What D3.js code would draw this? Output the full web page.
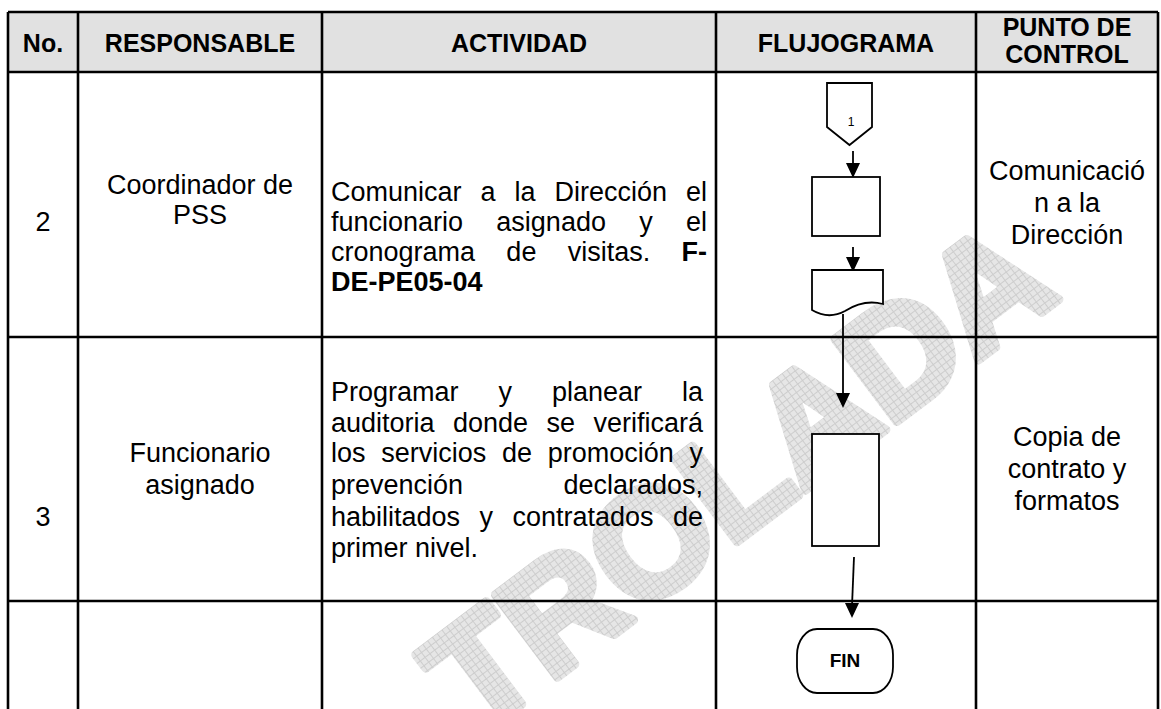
<!DOCTYPE html>
<html><head><meta charset="utf-8">
<script src="https://cdn.jsdelivr.net/npm/d3@7"></script>
<style>html,body{margin:0;padding:0;background:#fff;}svg{display:block;}</style>
</head><body>
<svg id="c" width="1161" height="709"></svg>
<script>
// ---- data ----
const headers = [["No."], ["RESPONSABLE"], ["ACTIVIDAD"], ["FLUJOGRAMA"], ["PUNTO DE", "CONTROL"]];
const numbers = ["2", "3", ""];
const responsables = [["Coordinador de", "PSS"], ["Funcionario", "asignado"], []];
const actividad2 = [
  [["Comunicar"], ["a"], ["la"], ["Dirección"], ["el"]],
  [["funcionario"], ["asignado"], ["y"], ["el"]],
  [["cronograma"], ["de"], ["visitas."], ["F-", true]],
  [["DE-PE05-04", true]]
];
const actividad3 = [
  [["Programar"], ["y"], ["planear"], ["la"]],
  [["auditoria"], ["donde"], ["se"], ["verificará"]],
  [["los"], ["servicios"], ["de"], ["promoción"], ["y"]],
  [["prevención"], ["declarados,"]],
  [["habilitados"], ["y"], ["contratados"], ["de"]],
  [["primer"], ["nivel."]]
];
const puntos = [["Comunicació", "n a la", "Dirección"], ["Copia de", "contrato y", "formatos"], []];
const connectorLabel = "1";
const endLabel = "FIN";
const watermarkLetters = ["C", "O", "N", "T", "R", "O", "L", "A", "D", "A"];

// ---- layout ----
const W = 1161, H = 709;
const svg = d3.select("#c");
const FONT = "'Liberation Sans', Arial, Helvetica, sans-serif";
const colEdges = [8, 78, 322, 716, 976, 1158];
const rowEdges = [12, 72, 337, 601, 780];
const colX = i => colEdges[i];
const colC = i => (colEdges[i] + colEdges[i + 1]) / 2;

// header background
svg.append("rect").attr("x", colX(0)).attr("y", rowEdges[0]).attr("width", colEdges[5] - colEdges[0])
  .attr("height", rowEdges[1] - rowEdges[0]).attr("fill", "#e1e1e1");

// watermark
const defs = svg.append("defs");
const pat = defs.append("pattern").attr("id", "hatch").attr("patternUnits", "userSpaceOnUse")
  .attr("width", 6).attr("height", 6);
pat.append("rect").attr("width", 6).attr("height", 6).attr("fill", "#e6e6e6");
pat.append("path").attr("d", "M0,0.5H6M0.5,0V6").attr("stroke", "#cdcdcd").attr("stroke-width", 1);
const WM_SIZE = 150, WM_ANG = -37, WM_END = [1062, 297];
const wm = svg.append("g").attr("transform", `translate(${WM_END[0]},${WM_END[1]}) rotate(${WM_ANG})`);
(function () {
  const widths = watermarkLetters.map(ch => {
    const t = wm.append("text").attr("font-family", FONT).attr("font-weight", "bold").attr("font-size", WM_SIZE).text(ch);
    const w = t.node().getComputedTextLength(); t.remove(); return w;
  });
  let pos = -d3.sum(widths);
  const rad = WM_ANG * Math.PI / 180;
  watermarkLetters.forEach((ch, i) => {
    const sy = WM_END[1] + pos * Math.sin(rad);
    if (sy < H + 80) {
      wm.append("text").attr("x", pos).attr("y", 0).attr("font-family", FONT).attr("font-weight", "bold")
        .attr("font-size", WM_SIZE).attr("fill", "url(#hatch)")
        .attr("stroke", "url(#hatch)").attr("stroke-width", 9).attr("stroke-linejoin", "round").text(ch);
    }
    pos += widths[i];
  });
})();

// header text
const hdrBase = [[52], [52], [52], [52], [36, 63]];
headers.forEach((lines, i) => {
  lines.forEach((t, j) => {
    svg.append("text").attr("x", colC(i)).attr("y", hdrBase[i][j]).attr("text-anchor", "middle")
      .attr("font-family", FONT).attr("font-weight", "bold").attr("font-size", 25).text(t);
  });
});

const BODY = 27;
function centerLines(lines, cx, baselines, size, bold) {
  lines.forEach((t, j) => svg.append("text").attr("x", cx).attr("y", baselines[j])
    .attr("text-anchor", "middle").attr("font-family", FONT).attr("font-size", size)
    .attr("font-weight", bold ? "bold" : "normal").text(t));
}
const numBase = [231, 526];
numbers.forEach((n, i) => { if (n) centerLines([n], colC(0), [numBase[i]], BODY); });
const respBase = [[194, 224], [462, 494]];
responsables.forEach((l, i) => { if (l.length) centerLines(l, colC(1), respBase[i], BODY); });
const ptBase = [[180, 212, 244], [446, 478, 510]];
puntos.forEach((l, i) => { if (l.length) centerLines(l, colC(4), ptBase[i], BODY); });

// justified paragraphs
function measure(word, bold) {
  const t = svg.append("text").attr("font-family", FONT).attr("font-size", BODY)
    .attr("font-weight", bold ? "bold" : "normal").text(word);
  const w = t.node().getComputedTextLength(); t.remove(); return w;
}
const spaceW = measure("a a") - measure("aa");
function justify(lines, x0, x1, baselines) {
  lines.forEach((words, j) => {
    const widths = words.map(w => measure(w[0], w[1]));
    const sum = d3.sum(widths);
    const last = j === lines.length - 1;
    const gap = (last || words.length < 2) ? spaceW : (x1 - x0 - sum) / (words.length - 1);
    let cx = x0;
    words.forEach((w, k) => {
      svg.append("text").attr("x", cx).attr("y", baselines[j]).attr("font-family", FONT)
        .attr("font-size", BODY).attr("font-weight", w[1] ? "bold" : "normal").text(w[0]);
      cx += widths[k] + gap;
    });
  });
}
justify(actividad2, 331, 707, [201, 231, 261, 291]);
justify(actividad3, 331, 703, [401, 432, 462, 494, 526, 557]);

// grid lines
const g = svg.append("g").attr("stroke", "#000").attr("stroke-width", 2.6);
rowEdges.slice(0, 4).forEach(y => g.append("line").attr("x1", colEdges[0]).attr("x2", colEdges[5]).attr("y1", y).attr("y2", y));
colEdges.forEach(cx => g.append("line").attr("x1", cx).attr("x2", cx).attr("y1", rowEdges[0]).attr("y2", H + 5));

// flowchart
const f = svg.append("g").attr("stroke", "#000").attr("stroke-width", 1.8).attr("fill", "#fff");
function arrow(x1, y1, x2, y2) {
  f.append("line").attr("x1", x1).attr("y1", y1).attr("x2", x2).attr("y2", y2 - 12);
  f.append("path").attr("d", `M${x2 - 7},${y2 - 15}L${x2 + 7},${y2 - 15}L${x2},${y2}Z`).attr("fill", "#000").attr("stroke", "none");
}
f.append("path").attr("d", "M827,83H872V127L849.5,145L827,127Z");
svg.append("text").attr("x", 851).attr("y", 126).attr("text-anchor", "middle").attr("font-family", FONT)
  .attr("font-size", 12).text(connectorLabel);
arrow(853, 151, 853, 178);
f.append("rect").attr("x", 812).attr("y", 177).attr("width", 68).attr("height", 59);
arrow(853, 247, 853, 272);
f.append("path").attr("d", "M812,270H883V304C868,300 856,304 845,311C834,317 822,316 812,310Z");
arrow(843, 314, 843, 408);
f.append("rect").attr("x", 812).attr("y", 434).attr("width", 67).attr("height", 112);
f.append("line").attr("x1", 854).attr("y1", 557).attr("x2", 852).attr("y2", 606);
f.append("path").attr("d", "M845,603L859,603L852,618Z").attr("fill", "#000").attr("stroke", "none");
f.append("rect").attr("x", 797).attr("y", 629).attr("width", 96).attr("height", 64).attr("rx", 20).attr("ry", 26);
svg.append("text").attr("x", 845).attr("y", 667).attr("text-anchor", "middle").attr("font-family", FONT)
  .attr("font-weight", "bold").attr("font-size", 19).text(endLabel);
</script>
</body></html>
